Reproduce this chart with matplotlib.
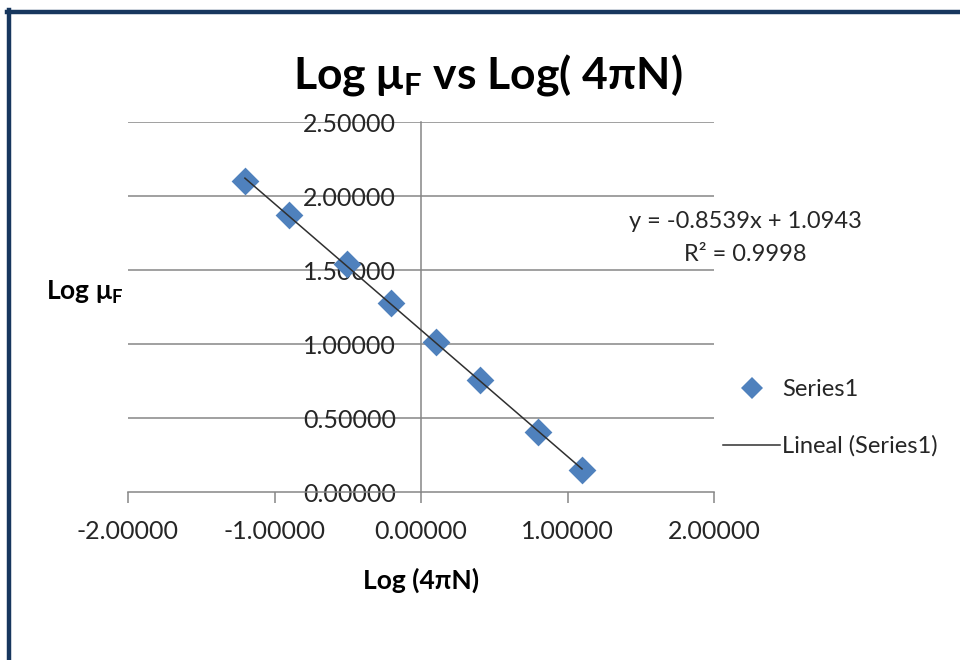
import numpy as np
import matplotlib
matplotlib.use('Agg')
import matplotlib.pyplot as plt
from matplotlib.lines import Line2D

plt.rcParams['font.family'] = ['Lato', 'DejaVu Sans']

# log(4*pi*N) and log(mu_F) pairs
log_4piN = [-1.202, -0.901, -0.503, -0.202, 0.099, 0.400, 0.800, 1.099]
log_muF = [2.101, 1.870, 1.543, 1.277, 1.014, 0.755, 0.405, 0.151]

# linear trendline coefficients
slope = -0.8539
intercept = 1.0943
r2 = 0.9998

x_ticks = [-2.0, -1.0, 0.0, 1.0, 2.0]
y_ticks = [0.0, 0.5, 1.0, 1.5, 2.0, 2.5]

fig = plt.figure(figsize=(9.6, 6.6), dpi=100)
ax = fig.add_axes([128 / 960, 1 - 492 / 660, (714 - 128) / 960, (492 - 122) / 660])

grid_c = '#868686'
blue = '#4F81BD'

ax.set_xlim(-2, 2)
ax.set_ylim(0, 2.5)
for v in y_ticks[1:]:
    ax.axhline(v, color=grid_c, lw=1.1, zorder=1)

ax.spines['top'].set_visible(False)
ax.spines['right'].set_visible(False)
ax.spines['left'].set_position(('data', 0))
ax.spines['left'].set_color(grid_c)
ax.spines['bottom'].set_color(grid_c)
ax.spines['left'].set_linewidth(1.1)
ax.spines['bottom'].set_linewidth(1.1)

ax.set_xticks(x_ticks)
ax.set_yticks(y_ticks)
ax.set_xticklabels([f'{v:.5f}' for v in x_ticks])
ax.set_yticklabels([f'{v:.5f}' for v in y_ticks])
ax.tick_params(axis='x', direction='out', length=8, width=1.1, color=grid_c,
               labelsize=18, pad=12, labelcolor='#262626')
ax.tick_params(axis='y', length=0, labelsize=18, pad=18, labelcolor='#262626')

ax.scatter(log_4piN, log_muF, marker='D', s=200, color=blue, zorder=3,
           linewidths=0)
tx = np.array([log_4piN[0], log_4piN[-1]])
ax.plot(tx, slope * tx + intercept, color='#303030', lw=1.1, zorder=4)

fig.text(488 / 960, 1 - 75 / 660, r'Log μ$\mathregular{_F}$ vs Log( 4πN)',
         ha='center', va='center', fontsize=32, fontweight='bold')
fig.text(85 / 960, 1 - 292 / 660, r'Log μ$\mathregular{_F}$',
         ha='center', va='center', fontsize=19, fontweight='bold')
fig.text(421 / 960, 1 - 580 / 660, 'Log (4πN)',
         ha='center', va='center', fontsize=19, fontweight='bold')

fig.text(745 / 960, 1 - 238 / 660,
         f'y = {slope:.4f}x + {intercept:.4f}\nR² = {r2:.4f}',
         ha='center', va='center', fontsize=17, color='#262626',
         linespacing=1.65)

handles = [Line2D([], [], ls='none', marker='D', ms=11, color=blue, mew=0),
           Line2D([], [], color='#303030', lw=1.1)]
fig.legend(handles, ['Series1', 'Lineal (Series1)'], loc='center left',
           bbox_to_anchor=(702 / 960, 1 - 418 / 660), frameon=False,
           fontsize=17, handlelength=2.4, handletextpad=0.1,
           labelspacing=1.5, labelcolor='#262626')

# dark frame along the top and left edges
navy = '#17375E'
fig.add_artist(Line2D([7 / 960, 1], [1 - 12 / 660, 1 - 12 / 660],
                      transform=fig.transFigure, color=navy, lw=3.2))
fig.add_artist(Line2D([9 / 960, 9 / 960], [1 - 10 / 660, 0],
                      transform=fig.transFigure, color=navy, lw=3.2))

fig.savefig('out.png', dpi=100)
